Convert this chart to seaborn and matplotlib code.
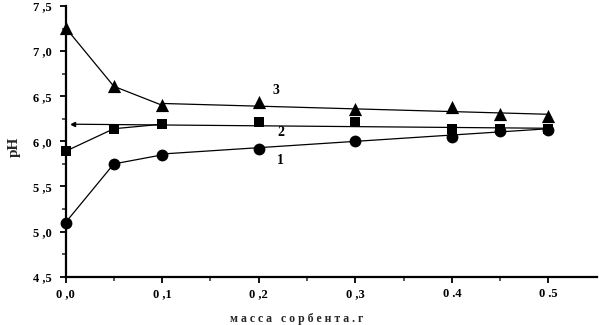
import numpy as np
import pandas as pd
import matplotlib
matplotlib.use('Agg')
import matplotlib.pyplot as plt
import seaborn as sns

# Datos
masa = [0.0, 0.05, 0.1, 0.2, 0.3, 0.4, 0.45, 0.5]
ph_1 = [5.10, 5.75, 5.85, 5.91, 6.00, 6.05, 6.11, 6.13]
ph_2 = [5.89, 6.14, 6.19, 6.22, 6.21, 6.14, 6.14, 6.14]
ph_3 = [7.26, 6.61, 6.40, 6.44, 6.36, 6.38, 6.30, 6.28]

# Rectas de tendencia (extremos)
recta_1_x = [0.1, 0.5]
recta_1_y = [5.86, 6.14]
recta_2_x = [0.008, 0.5]
recta_2_y = [6.19, 6.145]
recta_3_x = [0.1, 0.5]
recta_3_y = [6.42, 6.30]

xticks = [0.0, 0.1, 0.2, 0.3, 0.4, 0.5]
xtick_labels = ['0 ,0', '0 ,1', '0 ,2', '0 ,3', '0 .4', '0 .5']
yticks = [4.5, 5.0, 5.5, 6.0, 6.5, 7.0, 7.5]
ytick_labels = ['4 ,5', '5 ,0', '5 ,5', '6 ,0', '6 ,5', '7 ,0', '7 ,5']

sns.set_style('ticks')
plt.rcParams['font.family'] = ['Liberation Serif', 'DejaVu Serif']

fig = plt.figure(figsize=(5.99, 3.25), dpi=100)
ax = fig.add_axes([0.1094, 0.1486, 0.8868, 0.8329])

curvas = [
    (ph_1, recta_1_x, recta_1_y, 'o', 8.5),
    (ph_2, recta_2_x, recta_2_y, 's', 7.5),
    (ph_3, recta_3_x, recta_3_y, '^', 9.5),
]

for ph, rx, ry, marker, size in curvas:
    df = pd.DataFrame({'masa': masa, 'ph': ph})
    # segmentos entre los tres primeros puntos
    sns.lineplot(data=df.iloc[:3], x='masa', y='ph', color='black', linewidth=0.9,
                 ax=ax, legend=False)
    # recta de tendencia
    sns.lineplot(x=rx, y=ry, color='black', linewidth=0.9, ax=ax, legend=False)
    sns.scatterplot(data=df, x='masa', y='ph', marker=marker, s=size ** 2, color='black',
                    edgecolor='black', linewidth=0, ax=ax, legend=False, zorder=3, clip_on=False)

# pequeña flecha al inicio de la recta 2
ax.plot([recta_2_x[0]], [recta_2_y[0]], marker='<', markersize=3, color='black')

etiqueta = dict(fontsize=10, fontweight='bold', color='black', ha='center', va='center')
ax.text(0.2226, 5.79, '1', **etiqueta)
ax.text(0.2226, 6.10, '2', **etiqueta)
ax.text(0.2175, 6.56, '3', **etiqueta)

ax.set_xlim(0, 0.55)
ax.set_ylim(4.5, 7.5)
ax.set_xticks(xticks)
ax.set_xticklabels(xtick_labels)
ax.set_xticks(np.arange(0.05, 0.55, 0.1), minor=True)
ax.set_yticks(yticks)
ax.set_yticklabels(ytick_labels)
ax.set_yticks(np.arange(4.75, 7.5, 0.5), minor=True)

ax.tick_params(axis='both', which='major', direction='out', length=4, width=1.3,
               labelsize=9, colors='black')
ax.tick_params(axis='both', which='minor', direction='out', length=3, width=1.1)
ax.tick_params(axis='x', which='major', pad=4)
ax.tick_params(axis='y', which='major', pad=6)
for lab in ax.get_xticklabels() + ax.get_yticklabels():
    lab.set_fontweight('bold')

sns.despine(ax=ax)
for s in ['left', 'bottom']:
    ax.spines[s].set_linewidth(1.6)
    ax.spines[s].set_color('black')

ax.set_xlabel('м а с с а   с о р б е н т а . г', fontsize=8.5, fontweight='bold')
ax.xaxis.set_label_coords(0.435, -0.135)
ax.set_ylabel('рН', fontsize=11, fontweight='bold')
ax.yaxis.set_label_coords(-0.085, 0.479)

fig.savefig('out.png', dpi=100)
